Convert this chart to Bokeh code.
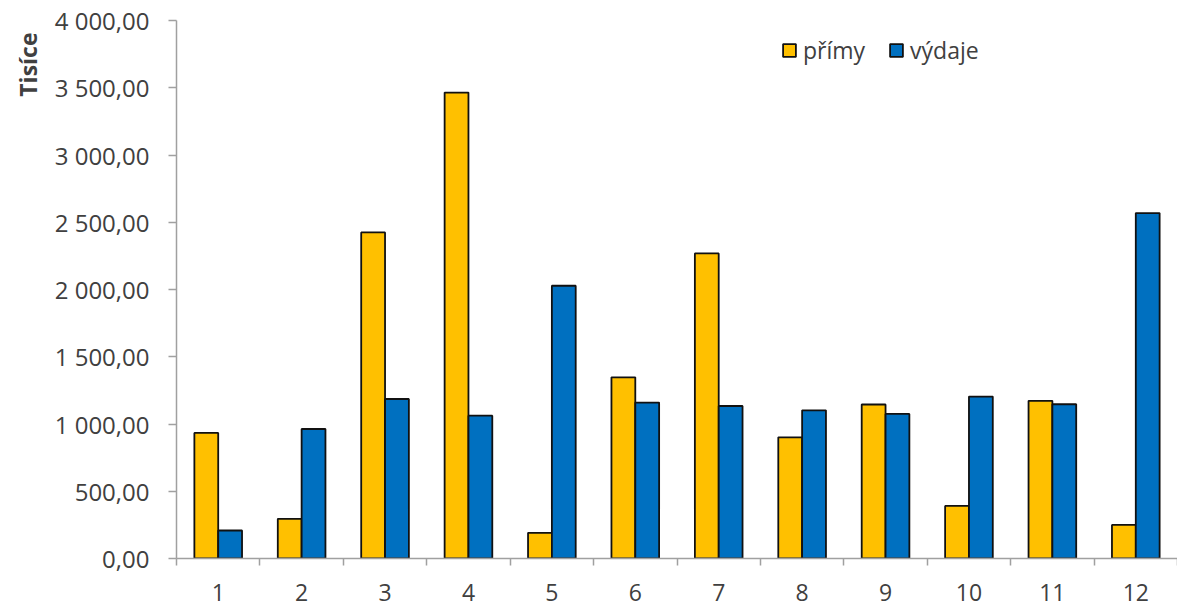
from bokeh.plotting import figure
from bokeh.models import (Range1d, FixedTicker, LinearAxis, Legend, LegendItem, Title, ColumnDataSource)
from bokeh.embed import file_html
from bokeh.resources import INLINE

# ---- data ----
months = [1, 2, 3, 4, 5, 6, 7, 8, 9, 10, 11, 12]
primy = [934, 295, 2424, 3464, 191, 1347, 2268, 901, 1145, 391, 1172, 250]
vydaje = [208, 963, 1186, 1062, 2028, 1159, 1134, 1102, 1075, 1204, 1147, 2568]
series_names = ["přímy", "výdaje"]
y_ticks = [0, 500, 1000, 1500, 2000, 2500, 3000, 3500, 4000]
y_tick_labels = ["0,00", "500,00", "1 000,00", "1 500,00", "2 000,00",
                 "2 500,00", "3 000,00", "3 500,00", "4 000,00"]
y_title = "Tisíce"

# ---- layout ----
W, H = 1177, 608
LEFT, TOP, BOTTOM = 176, 20, 50
bar_w = 1.0 / 1.75 / 2.0

FONT = "Open Sans"
TXT = "#404040"
GRID = "#a0a0a0"

p = figure(width=W, height=H, output_backend="svg", toolbar_location=None,
           x_range=Range1d(0.5, 12.5), y_range=Range1d(0, 4000),
           min_border_left=LEFT, min_border_top=TOP, min_border_bottom=BOTTOM,
           min_border_right=0, x_axis_type=None, y_axis_type=None)
p.outline_line_color = None
p.background_fill_color = "white"
p.border_fill_color = "white"

src = ColumnDataSource(dict(
    xp=[m - bar_w / 2 for m in months],
    xv=[m + bar_w / 2 for m in months],
    primy=primy, vydaje=vydaje))

r1 = p.vbar(x="xp", top="primy", width=bar_w, source=src,
            fill_color="#FFC000", line_color="#111111", line_width=1.8)
r2 = p.vbar(x="xv", top="vydaje", width=bar_w, source=src,
            fill_color="#0070C0", line_color="#111111", line_width=1.8)

# y axis
yaxis = LinearAxis(ticker=FixedTicker(ticks=y_ticks, minor_ticks=[]))
yaxis.major_label_overrides = {t: l for t, l in zip(y_ticks, y_tick_labels)}
yaxis.axis_line_color = GRID
yaxis.axis_line_width = 1.5
yaxis.major_tick_line_color = GRID
yaxis.major_tick_line_width = 1.5
yaxis.major_tick_out = 8
yaxis.major_tick_in = 0
yaxis.minor_tick_line_color = None
yaxis.major_label_standoff = 19
yaxis.major_label_text_font = FONT
yaxis.major_label_text_font_size = "24px"
yaxis.major_label_text_color = TXT
p.add_layout(yaxis, "left")

# y title (outside the axis, at the top end)
ttl = Title(text=y_title, align="right", offset=12, standoff=16,
            text_font=FONT, text_font_size="23px", text_font_style="bold",
            text_color=TXT)
p.add_layout(ttl, "left")

# x axis: labels at centers, ticks at boundaries
bounds = [m - 0.5 for m in months] + [months[-1] + 0.5]
xaxis = LinearAxis(ticker=FixedTicker(ticks=months, minor_ticks=bounds))
xaxis.major_label_overrides = {m: str(m) for m in months}
xaxis.axis_line_color = GRID
xaxis.axis_line_width = 1.5
xaxis.major_tick_line_color = None
xaxis.major_tick_out = 0
xaxis.major_tick_in = 0
xaxis.minor_tick_line_color = GRID
xaxis.minor_tick_line_width = 1.5
xaxis.minor_tick_out = 7
xaxis.minor_tick_in = 0
xaxis.major_label_standoff = 18
xaxis.major_label_text_font = FONT
xaxis.major_label_text_font_size = "23px"
xaxis.major_label_text_color = TXT
p.add_layout(xaxis, "below")

# grid
p.ygrid.ticker = FixedTicker(ticks=y_ticks)
p.ygrid.grid_line_color = GRID
p.ygrid.grid_line_width = 1.5
p.xgrid.visible = False

# legend
legend = Legend(items=[LegendItem(label=series_names[0], renderers=[r1]),
                       LegendItem(label=series_names[1], renderers=[r2])],
                location=(605, 492), orientation="horizontal",
                glyph_width=16, glyph_height=16, label_standoff=6, spacing=23,
                padding=0, margin=0, border_line_color=None,
                background_fill_alpha=0,
                label_text_font=FONT, label_text_font_size="23px",
                label_text_color=TXT)
p.add_layout(legend)

open("out.html", "w").write(file_html(p, INLINE))
